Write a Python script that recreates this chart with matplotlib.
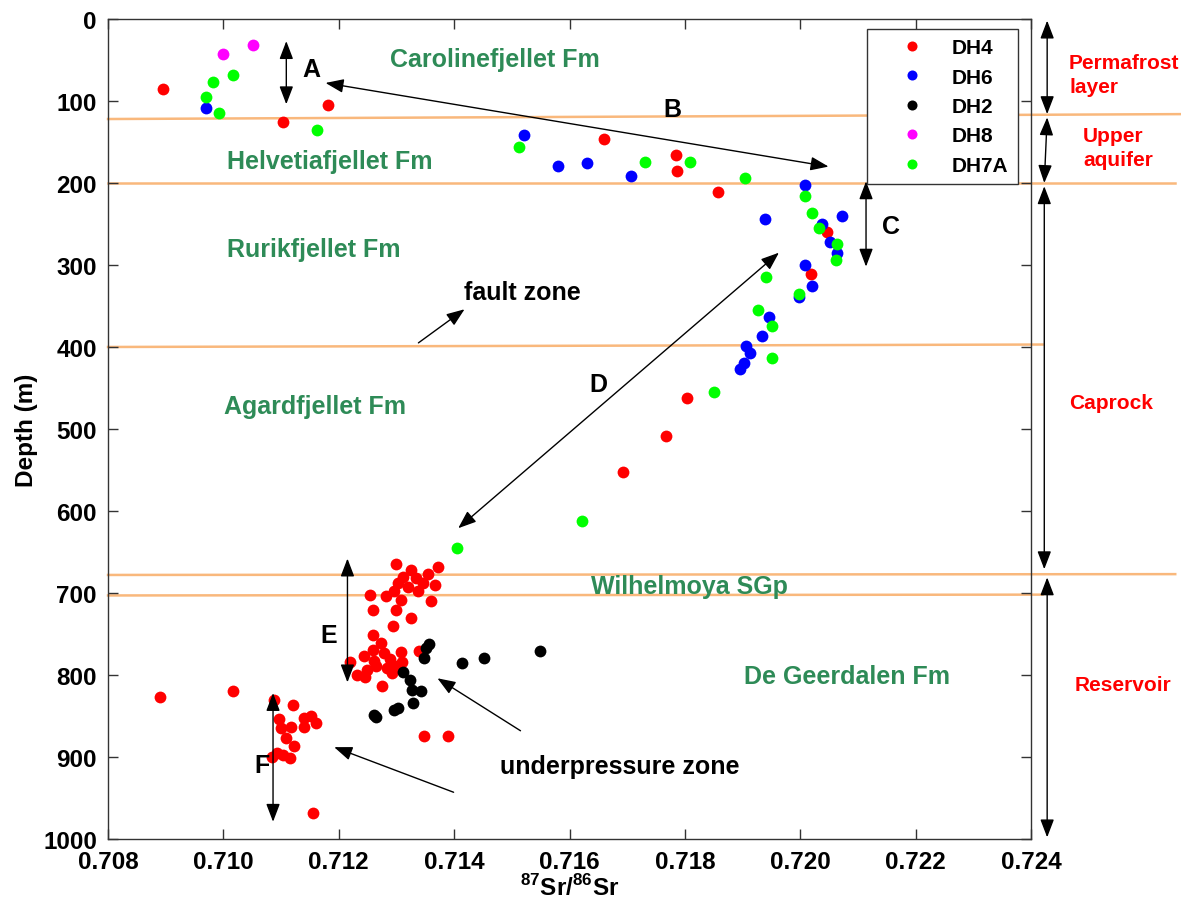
import matplotlib
matplotlib.use('Agg')
import matplotlib.pyplot as plt

plt.rcParams['font.family'] = ['Liberation Sans', 'DejaVu Sans']
plt.rcParams['font.weight'] = 'bold'
plt.rcParams['mathtext.fontset'] = 'custom'
plt.rcParams['mathtext.rm'] = 'Liberation Sans:bold'
plt.rcParams['mathtext.bf'] = 'Liberation Sans:bold'

# 87Sr/86Sr ratio vs depth (m) per borehole
dh4_sr = [0.70896, 0.71104, 0.71182, 0.71659, 0.71784, 0.71786, 0.71857, 0.72047, 0.72019,
          0.71804, 0.71768, 0.71693,
          0.71299, 0.71372, 0.71325, 0.71355, 0.71311, 0.71334, 0.71302, 0.71346, 0.71367,
          0.71320, 0.71296, 0.71337, 0.71282, 0.71254, 0.71308, 0.71360, 0.71299, 0.71260,
          0.71325, 0.71294, 0.71260, 0.71274, 0.71260, 0.71278, 0.71308, 0.71339, 0.71243,
          0.71289, 0.71261, 0.71309, 0.71220, 0.71265, 0.71301, 0.71284, 0.71249, 0.71292,
          0.71232, 0.71246, 0.71275,
          0.70890, 0.71017, 0.71088, 0.71120, 0.71097, 0.71099, 0.71117, 0.71139, 0.71152,
          0.71161, 0.71140, 0.71109, 0.71122, 0.71084, 0.71103, 0.71116, 0.71093, 0.71155,
          0.71348, 0.71390]
dh4_depth = [85, 126, 105, 146, 166, 185, 211, 260, 311,
             462, 509, 553,
             665, 668, 672, 677, 680, 682, 688, 688, 690,
             693, 698, 698, 704, 702, 709, 710, 721, 721,
             730, 740, 751, 761, 770, 773, 772, 771, 777,
             780, 783, 784, 784, 789, 789, 791, 794, 797,
             800, 803, 814,
             827, 820, 831, 837, 854, 865, 863, 852, 850,
             859, 863, 877, 887, 900, 897, 901, 895, 968,
             874, 874]

dh6_sr = [0.70969, 0.71521, 0.71580, 0.71630, 0.71707, 0.72009, 0.71938, 0.72073, 0.72038,
          0.72052, 0.72063, 0.72009, 0.72021, 0.71998, 0.71945, 0.71933, 0.71906, 0.71913,
          0.71903, 0.71895]
dh6_depth = [109, 142, 179, 176, 191, 202, 244, 240, 250,
             272, 285, 300, 326, 339, 363, 387, 399, 407,
             420, 427]

dh2_sr = [0.71548, 0.71452, 0.71413, 0.71357, 0.71351, 0.71347, 0.71312, 0.71323, 0.71327,
          0.71342, 0.71329, 0.71302, 0.71296, 0.71261, 0.71265]
dh2_depth = [771, 779, 785, 762, 767, 779, 796, 806, 818,
             820, 834, 840, 843, 849, 851]

dh8_sr = [0.70999, 0.71051]
dh8_depth = [43, 32]

dh7a_sr = [0.70969, 0.70982, 0.71016, 0.70992, 0.71162, 0.71512, 0.71730, 0.71808, 0.71904,
           0.72009, 0.72020, 0.72032, 0.72063, 0.72062, 0.71941, 0.71997, 0.71926, 0.71951,
           0.71951, 0.71850, 0.71622, 0.71405]
dh7a_depth = [95, 77, 68, 115, 135, 156, 175, 175, 194,
              216, 236, 255, 275, 294, 315, 335, 355, 375,
              413, 455, 612, 645]

series = [
    ('DH4', dh4_sr, dh4_depth, '#ff0000'),
    ('DH6', dh6_sr, dh6_depth, '#0000ff'),
    ('DH2', dh2_sr, dh2_depth, '#000000'),
    ('DH8', dh8_sr, dh8_depth, '#ff00ff'),
    ('DH7A', dh7a_sr, dh7a_depth, '#00ff00'),
]

# formation boundaries: (x start, depth start, x end, depth end)
boundaries = [
    (0.708, 122, 0.72666, 116),
    (0.708, 200, 0.7265, 200),
    (0.708, 400, 0.7242, 397),
    (0.708, 678, 0.7265, 677),
    (0.708, 703, 0.7242, 702),
]

formations = [
    ('Carolinefjellet Fm', 0.71470, 49),
    ('Helvetiafjellet Fm', 0.71184, 173),
    ('Rurikfjellet Fm', 0.71156, 280),
    ('Agardfjellet Fm', 0.71159, 472),
    ('Wilhelmoya SGp', 0.71808, 691),
    ('De Geerdalen Fm', 0.72081, 801),
]

zones = [
    ('Permafrost\nlayer', 0.72466, 68),
    ('Upper\naquifer', 0.72490, 157),
    ('Caprock', 0.72466, 468),
    ('Reservoir', 0.72476, 812),
]

letters = [('A', 0.71152, 61), ('B', 0.71779, 110), ('C', 0.72157, 252),
           ('D', 0.71650, 445), ('E', 0.71182, 751), ('F', 0.71066, 910)]

fig = plt.figure(figsize=(11.81, 9.04), dpi=100)
ax = fig.add_axes([0.0915, 0.0708, 0.7815, 0.9071])

orange = '#f9b87c'
for x0, d0, x1, d1 in boundaries:
    ax.plot([x0, x1], [d0, d1], color=orange, lw=1.8, clip_on=False, zorder=1)

for name, xs, ds, col in series:
    ax.plot(xs, ds, 'o', color=col, markersize=8.5, markeredgewidth=0, label=name, zorder=3)

green_txt = '#2e8b57'
for txt, x, d in formations:
    ax.text(x, d, txt, color=green_txt, fontsize=18, fontweight='bold',
            ha='center', va='center', zorder=4)

for txt, x, d in zones:
    ax.text(x, d, txt, color='red', fontsize=15, fontweight='bold',
            ha='left', va='center', linespacing=1.3, clip_on=False)

two_head = dict(arrowstyle='<|-|>,head_length=1.1,head_width=0.42', color='k', lw=1.0,
                shrinkA=0, shrinkB=0)
one_head = dict(arrowstyle='-|>,head_length=1.1,head_width=0.42', color='k', lw=1.0,
                shrinkA=0, shrinkB=0)

# double-headed markers for A-F and for the hydro zones on the right
double_arrows = [
    ((0.71109, 27), (0.71109, 104)),
    ((0.71177, 78), (0.72049, 180)),
    ((0.72114, 198), (0.72114, 302)),
    ((0.71407, 621), (0.71963, 285)),
    ((0.71215, 658), (0.71215, 809)),
    ((0.71086, 822), (0.71086, 979)),
    ((0.72428, 2), (0.72428, 116)),
    ((0.72428, 120), (0.72423, 200)),
    ((0.72423, 204), (0.72423, 671)),
    ((0.72428, 681), (0.72428, 998)),
]
for p0, p1 in double_arrows:
    ax.annotate('', xy=p1, xytext=p0, arrowprops=two_head, annotation_clip=False)

single_arrows = [
    ((0.71338, 395), (0.71418, 354)),
    ((0.71515, 868), (0.71371, 804)),
    ((0.71399, 943), (0.71192, 888)),
]
for p0, p1 in single_arrows:
    ax.annotate('', xy=p1, xytext=p0, arrowprops=one_head, annotation_clip=False)

for txt, x, d in letters:
    ax.text(x, d, txt, fontsize=18, fontweight='bold', ha='center', va='center')

ax.text(0.71518, 333, 'fault zone', fontsize=18, fontweight='bold', ha='center', va='center')
ax.text(0.71687, 911, 'underpressure zone', fontsize=18, fontweight='bold',
        ha='center', va='center')

ax.set_xlim(0.708, 0.724)
ax.set_ylim(1000, 0)
ax.set_xticks([0.708 + 0.002 * i for i in range(9)])
ax.set_xticklabels(['%.3f' % (0.708 + 0.002 * i) for i in range(9)])
ax.set_yticks(range(0, 1001, 100))
ax.tick_params(direction='in', length=7, width=1, top=True, right=True,
               labelsize=17.5, pad=8, color='#333333')
for lab in ax.get_xticklabels() + ax.get_yticklabels():
    lab.set_fontweight('bold')
for sp in ax.spines.values():
    sp.set_color('#333333')
    sp.set_linewidth(1.0)

ax.set_ylabel('Depth (m)', fontsize=17.5, fontweight='bold', labelpad=4)
ax.set_xlabel(r'$^{87}$Sr/$^{86}$Sr', fontsize=17.5, fontweight='bold', labelpad=1)

leg = ax.legend(loc='upper right', bbox_to_anchor=(0.9855, 0.988), borderaxespad=0,
                fancybox=False, framealpha=1, edgecolor='#333333', fontsize=15,
                markerscale=0.85, handletextpad=0.2, labelspacing=0.5,
                borderpad=0.45, handlelength=3.4)
leg.get_frame().set_linewidth(1.0)
for t in leg.get_texts():
    t.set_fontweight('bold')

fig.savefig('out.png', dpi=100)
